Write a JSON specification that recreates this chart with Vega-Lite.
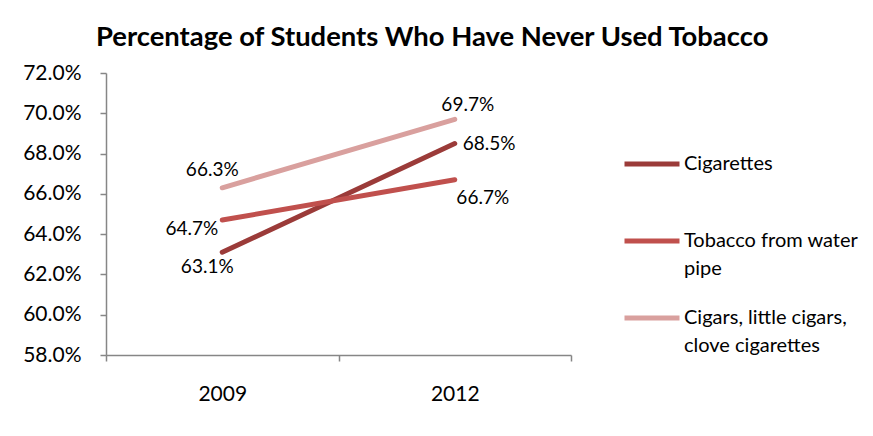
{
  "$schema": "https://vega.github.io/schema/vega-lite/v6.json",
  "width": 465,
  "height": 282,
  "autosize": {"type": "none"},
  "padding": {"left": 106, "top": 73, "right": 302, "bottom": 81},
  "background": "white",
  "title": {
    "text": "Percentage of Students Who Have Never Used Tobacco",
    "anchor": "start",
    "frame": "group",
    "dx": -10,
    "dy": -7,
    "fontSize": 27.4,
    "font": "Lato",
    "fontWeight": "bold",
    "color": "#000000"
  },
  "config": {
    "font": "Lato",
    "view": {"stroke": null},
    "style": {"guide-label": {"lineHeight": 28}},
    "axis": {"grid": false, "domainColor": "#868686", "tickColor": "#868686", "labelColor": "#000000", "labelFont": "Lato", "titleFont": "Lato"}
  },
  "data": {
    "values": [
      {"series": "Cigarettes", "year": "2009", "value": 0.631},
      {"series": "Cigarettes", "year": "2012", "value": 0.685},
      {"series": "Tobacco from water pipe", "year": "2009", "value": 0.647},
      {"series": "Tobacco from water pipe", "year": "2012", "value": 0.667},
      {"series": "Cigars, little cigars, clove cigarettes", "year": "2009", "value": 0.663},
      {"series": "Cigars, little cigars, clove cigarettes", "year": "2012", "value": 0.697}
    ]
  },
  "encoding": {
    "x": {
      "field": "year", "type": "nominal", "title": null,
      "axis": {"labelAngle": 0, "labelFontSize": 21, "tickBand": "extent", "tickSize": 6, "labelPadding": 22, "domainWidth": 1.5, "tickWidth": 1.5}
    },
    "y": {
      "field": "value", "type": "quantitative", "title": null,
      "scale": {"domain": [0.58, 0.72], "nice": false, "zero": false},
      "axis": {"values": [0.58, 0.60, 0.62, 0.64, 0.66, 0.68, 0.70, 0.72], "format": ".1%", "labelFontSize": 21, "tickSize": 6, "labelPadding": 19, "domainWidth": 1.5, "tickWidth": 1.5}
    }
  },
  "layer": [
    {
      "mark": {"type": "line", "strokeWidth": 5, "strokeCap": "round"},
      "encoding": {
        "color": {
          "field": "series", "type": "nominal",
          "scale": {
            "domain": ["Cigarettes", "Tobacco from water pipe", "Cigars, little cigars, clove cigarettes"],
            "range": ["#9B3B39", "#C0504D", "#D9A09E"]
          },
          "legend": {
            "title": null,
            "orient": "none",
            "legendX": 516,
            "legendY": 61,
            "symbolType": "stroke",
            "symbolStrokeWidth": 5,
            "symbolSize": 3025,
            "labelFontSize": 20,
            "labelFont": "Lato",
            "labelColor": "#000000",
            "labelOffset": 2,
            "labelLimit": 300,
            "rowPadding": 9,
            "labelExpr": "datum.label == 'Tobacco from water pipe' ? ['Tobacco from water', 'pipe'] : datum.label == 'Cigars, little cigars, clove cigarettes' ? ['Cigars, little cigars,', 'clove cigarettes'] : ['Cigarettes', '']"
          }
        },
        "order": {"field": "year"}
      }
    },
    {
      "transform": [{"filter": "datum.series == 'Cigars, little cigars, clove cigarettes' && datum.year == '2009'"}],
      "mark": {"type": "text", "fontSize": 19, "align": "center", "dx": -10, "dy": -18},
      "encoding": {"text": {"field": "value", "format": ".1%"}}
    },
    {
      "transform": [{"filter": "datum.series == 'Tobacco from water pipe' && datum.year == '2009'"}],
      "mark": {"type": "text", "fontSize": 19, "align": "right", "dx": -4, "dy": 9},
      "encoding": {"text": {"field": "value", "format": ".1%"}}
    },
    {
      "transform": [{"filter": "datum.series == 'Cigarettes' && datum.year == '2009'"}],
      "mark": {"type": "text", "fontSize": 19, "align": "center", "dx": -15, "dy": 15},
      "encoding": {"text": {"field": "value", "format": ".1%"}}
    },
    {
      "transform": [{"filter": "datum.series == 'Cigars, little cigars, clove cigarettes' && datum.year == '2012'"}],
      "mark": {"type": "text", "fontSize": 19, "align": "center", "dx": 13, "dy": -14},
      "encoding": {"text": {"field": "value", "format": ".1%"}}
    },
    {
      "transform": [{"filter": "datum.series == 'Cigarettes' && datum.year == '2012'"}],
      "mark": {"type": "text", "fontSize": 19, "align": "left", "dx": 8, "dy": 0},
      "encoding": {"text": {"field": "value", "format": ".1%"}}
    },
    {
      "transform": [{"filter": "datum.series == 'Tobacco from water pipe' && datum.year == '2012'"}],
      "mark": {"type": "text", "fontSize": 19, "align": "center", "dx": 28, "dy": 18},
      "encoding": {"text": {"field": "value", "format": ".1%"}}
    }
  ]
}
